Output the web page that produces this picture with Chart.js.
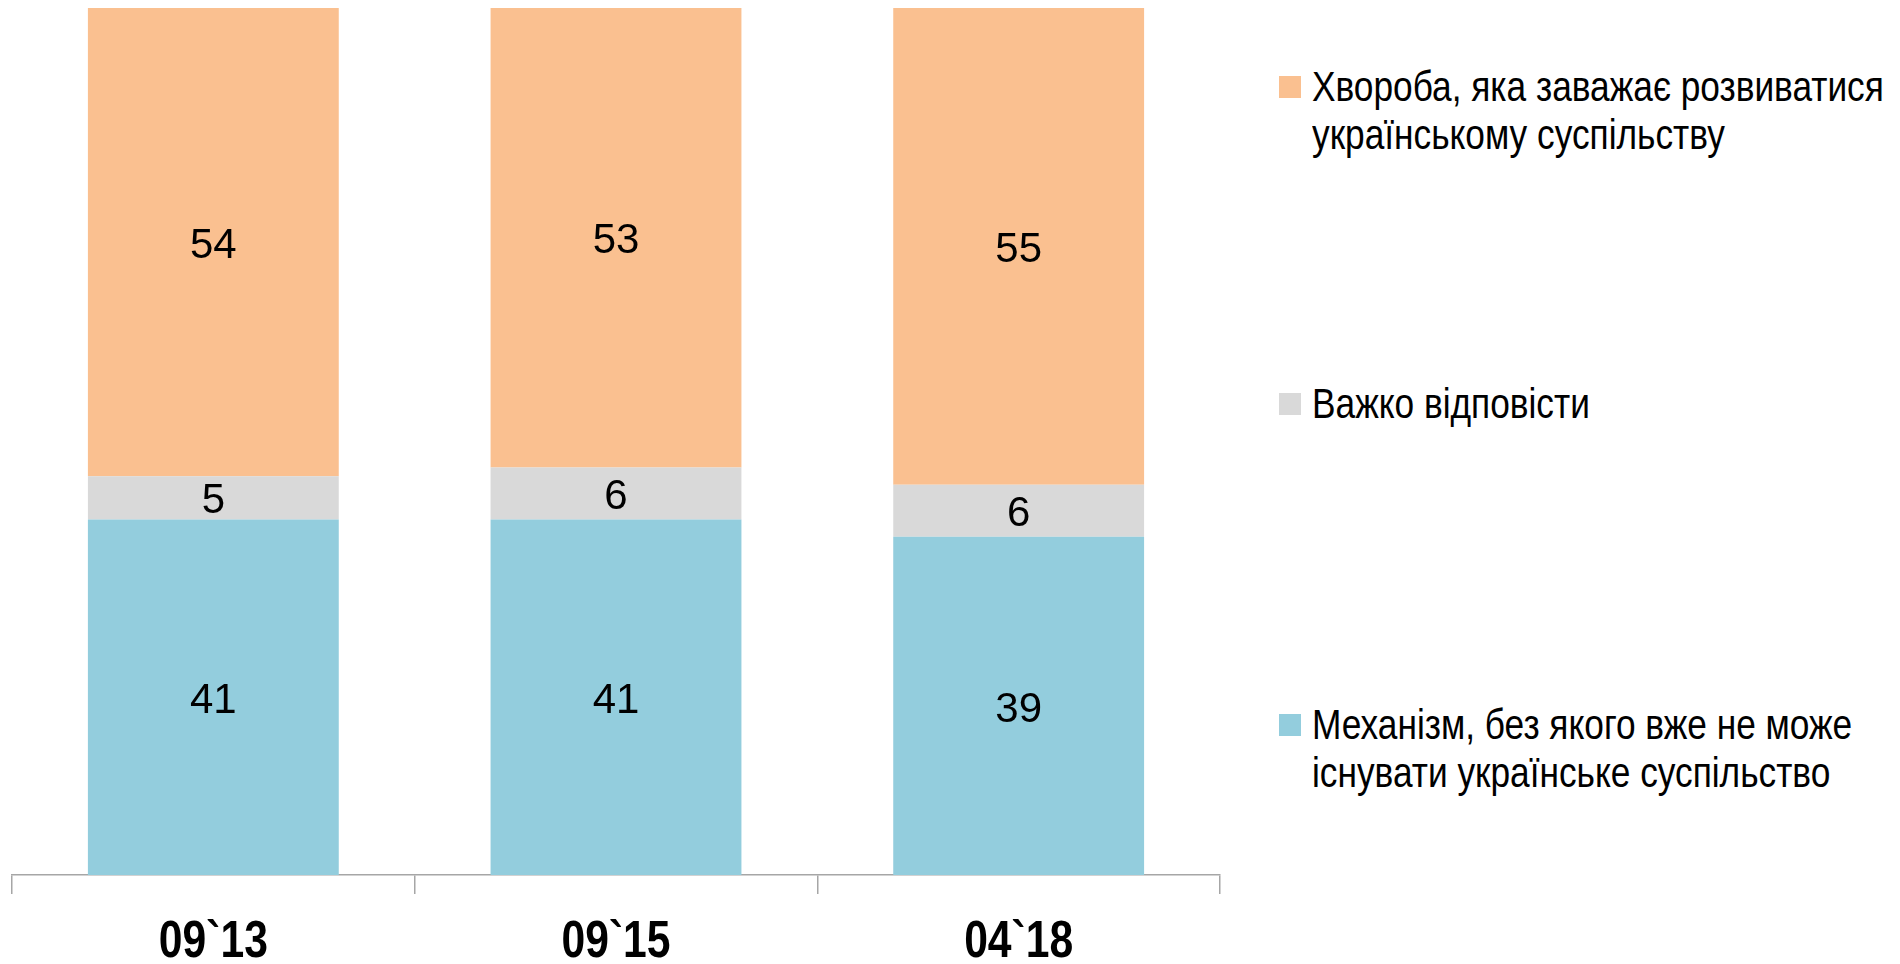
<!DOCTYPE html>
<html>
<head>
<meta charset="utf-8">
<script src="https://cdn.jsdelivr.net/npm/chart.js@4.4.1/dist/chart.umd.min.js"></script>
<style>
    body { margin: 0; background: #fff; }
    #wrap { position: relative; width: 1900px; height: 964px; overflow: hidden; }
    #grafico { position: absolute; left: 0; top: 0; }
    .leyenda-item { position: absolute; left: 1279px; font-family: "Liberation Sans", Arial, sans-serif; font-size: 43px; line-height: 48px; color: #000; }
    .leyenda-item span.cuadro { position: absolute; left: 0; top: 14px; width: 22px; height: 22px; }
    .leyenda-item div.texto { margin-left: 33px; white-space: nowrap; transform: scaleX(0.82); transform-origin: 0 0; }
</style>
</head>
<body>
<div id="wrap">
    <canvas id="grafico" width="1250" height="964"></canvas>
    <div id="leyenda"></div>
</div>
<script>
let categorias = ['09`13', '09`15', '04`18'];
let mecanizm = [41, 41, 39];
let vazhko = [5, 6, 6];
let khvoroba = [54, 53, 55];

let etiquetasSeries = [
    ['Механізм, без якого вже не може', 'існувати українське суспільство'],
    ['Важко відповісти'],
    ['Хвороба, яка заважає розвиватися', 'українському суспільству']
];
let colores = ['#93CDDD', '#D9D9D9', '#FAC090'];
let posLeyenda = [700, 379, 62]; // top de cada item (px)

// etiquetas de valor en el centro de cada segmento
const etiquetasValor = {
    id: 'etiquetasValor',
    afterDatasetsDraw(chart) {
        const ctx = chart.ctx;
        ctx.save();
        ctx.font = '42px "Liberation Sans", Arial, sans-serif';
        ctx.fillStyle = '#000';
        ctx.textAlign = 'center';
        ctx.textBaseline = 'middle';
        chart.data.datasets.forEach((ds, i) => {
            const meta = chart.getDatasetMeta(i);
            meta.data.forEach((bar, j) => {
                const y = (bar.y + bar.base) / 2;
                ctx.fillText(String(ds.data[j]), bar.x, y + 4);
            });
        });
        ctx.restore();
    }
};

// etiquetas del eje x en negrita estrecha (no hay Arial Narrow)
const etiquetasEje = {
    id: 'etiquetasEje',
    afterDraw(chart) {
        const ctx = chart.ctx;
        const escala = chart.scales.x;
        ctx.save();
        ctx.font = 'bold 52px "Liberation Sans", Arial, sans-serif';
        ctx.fillStyle = '#000';
        ctx.textAlign = 'center';
        ctx.textBaseline = 'alphabetic';
        categorias.forEach((c, i) => {
            const x = escala.getPixelForValue(i);
            ctx.save();
            ctx.translate(x, 957);
            ctx.scale(0.82, 1);
            ctx.fillText(c, 0, 0);
            ctx.restore();
        });
        ctx.restore();
    }
};

const datos = [mecanizm, vazhko, khvoroba];

new Chart(document.getElementById('grafico').getContext('2d'), {
    type: 'bar',
    data: {
        labels: categorias,
        datasets: datos.map((d, i) => ({
            label: etiquetasSeries[i].join(' '),
            data: d,
            backgroundColor: colores[i],
            borderWidth: 0,
            barPercentage: 0.623,
            categoryPercentage: 1
        }))
    },
    options: {
        responsive: false,
        devicePixelRatio: 1,
        animation: false,
        layout: { padding: { left: 12, right: 30, top: 8, bottom: 70 } },
        plugins: { legend: { display: false }, tooltip: { enabled: false } },
        scales: {
            x: {
                stacked: true,
                border: { display: true, color: '#A6A6A6', width: 1.5 },
                grid: { drawOnChartArea: false, color: '#A6A6A6', tickLength: 19, lineWidth: 1.5 },
                ticks: { display: false }
            },
            y: { stacked: true, display: false, min: 0, max: 100 }
        }
    },
    plugins: [etiquetasValor, etiquetasEje]
});

// leyenda en HTML
const leyenda = document.getElementById('leyenda');
[2, 1, 0].forEach(i => {
    const item = document.createElement('div');
    item.className = 'leyenda-item';
    item.style.top = posLeyenda[i] + 'px';
    item.innerHTML = `<span class="cuadro" style="background:${colores[i]}"></span><div class="texto">${etiquetasSeries[i].join('<br>')}</div>`;
    leyenda.appendChild(item);
});
</script>
</body>
</html>
